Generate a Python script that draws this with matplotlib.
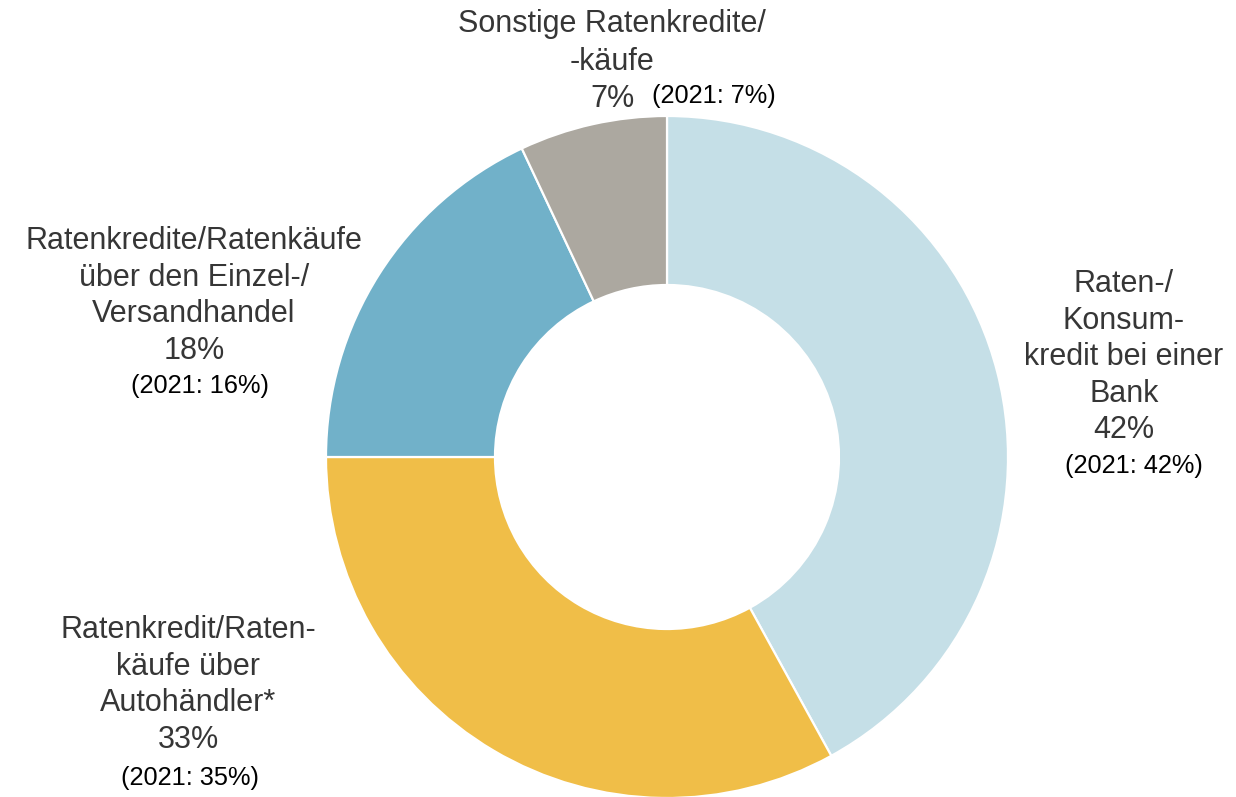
import matplotlib
matplotlib.use("Agg")
import matplotlib.pyplot as plt

# ── data ─────────────────────────────────────────────────────────────────────
segments = ["Bank", "Autohändler", "Einzel-/Versandhandel", "Sonstige"]
shares_2023 = [42, 33, 18, 7]
shares_2021 = [42, 35, 16, 7]
colors = ["#c5dfe7", "#f0be48", "#71b1c9", "#aca8a0"]

label_lines = [
    ["Raten-/", "Konsum-", "kredit bei einer", "Bank"],
    ["Ratenkredit/Raten-", "käufe über", "Autohändler*"],
    ["Ratenkredite/Ratenkäufe", "über den Einzel-/", "Versandhandel"],
    ["Sonstige Ratenkredite/", "-käufe"],
]

# ── layout (pixel coords, y from top) ────────────────────────────────────────
W, H = 1236, 797
CX, CY, R_OUT, R_IN = 667, 457, 341, 172
# (x centre, first baseline, line step, x of 2021 note, baseline of 2021 note)
label_pos = [
    (1124, 292, 36.5, 1134, 473),
    (188, 638, 36.7, 190, 785),
    (194, 249, 36.5, 200, 393),
    (612, 32, 37.5, 714, 103),
]

MAIN = "#363636"
FONT = "Liberation Sans"

fig = plt.figure(figsize=(W / 100, H / 100), dpi=100, facecolor="white")
ax = fig.add_axes([0, 0, 1, 1])
ax.axis("off")

ax.pie(shares_2023, colors=colors, startangle=90, counterclock=False,
       center=(CX, H - CY), radius=R_OUT,
       wedgeprops=dict(width=R_OUT - R_IN, edgecolor="white", linewidth=1.6))
ax.set_xlim(0, W)
ax.set_ylim(0, H)
ax.set_aspect("auto")

for lines, pct, old, (x, y0, step, x21, y21) in zip(label_lines, shares_2023, shares_2021, label_pos):
    rows = lines + [f"{pct}%"]
    for i, row in enumerate(rows):
        ax.text(x, H - (y0 + i * step), row, ha="center", va="baseline",
                fontsize=22, color=MAIN, family=FONT)
    ax.text(x21, H - y21, f"(2021: {old}%)", ha="center", va="baseline",
            fontsize=18.3, color="black", family=FONT)

fig.savefig("out.png", dpi=100, facecolor="white")
plt.close(fig)
